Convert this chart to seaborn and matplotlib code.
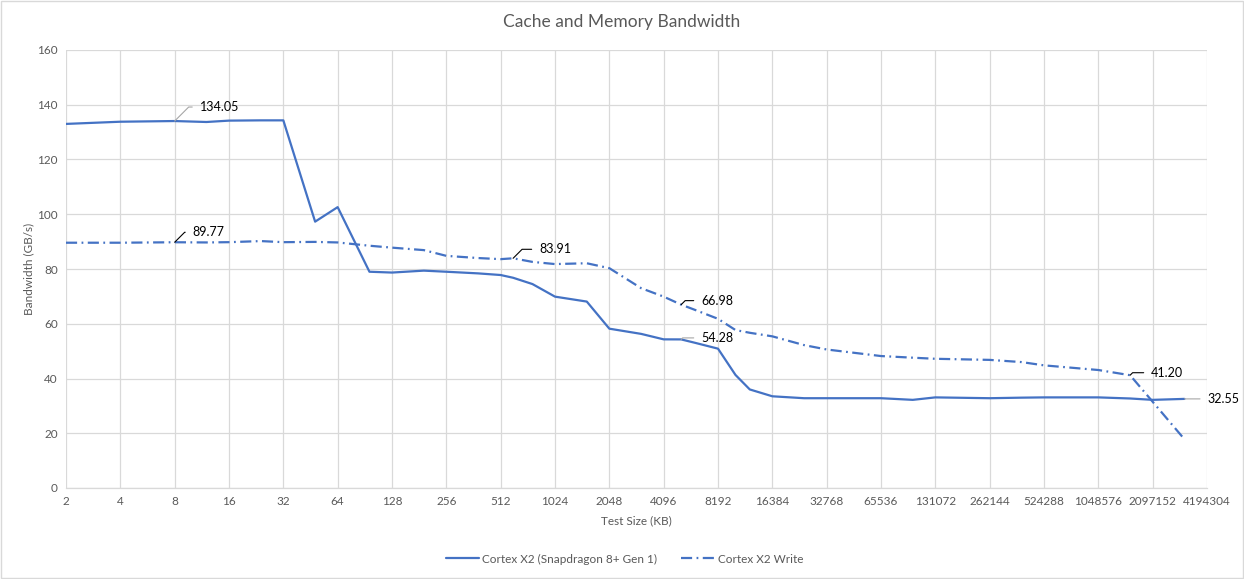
import numpy as np
import pandas as pd
import matplotlib
matplotlib.use("Agg")
import matplotlib.pyplot as plt
import seaborn as sns
from matplotlib.patches import Rectangle

# test sizes in KB
sizes = [2, 4, 8, 12, 16, 24, 32, 48, 64, 96, 128, 192, 256, 384, 512, 600, 768,
         1024, 1536, 2048, 3072, 4096, 5120, 6144, 8192, 10240, 12288, 16384,
         24567, 32768, 65536, 98304, 131072, 262144, 393216, 524288, 1048576,
         1572864, 2097152, 3145728]

# read bandwidth, GB/s
read_bw = [133.0, 133.8, 134.05, 133.7, 134.2, 134.3, 134.3, 97.3, 102.6, 79.0,
           78.7, 79.4, 79.0, 78.4, 77.8, 76.8, 74.5, 69.9, 68.1, 58.2, 56.3,
           54.3, 54.28, 53.0, 50.9, 41.3, 36.0, 33.5, 32.8, 32.8, 32.8, 32.2,
           33.1, 32.8, 33.0, 33.1, 33.1, 32.7, 32.2, 32.55]

# write bandwidth, GB/s
write_bw = [89.6, 89.6, 89.77, 89.7, 89.8, 90.2, 89.8, 89.9, 89.7, 88.5, 87.8,
            86.9, 84.8, 84.0, 83.6, 83.91, 82.6, 81.8, 82.1, 80.3, 73.0, 69.9,
            66.98, 65.0, 61.8, 57.7, 56.7, 55.4, 52.2, 50.6, 48.2, 47.6, 47.2,
            46.8, 46.0, 44.8, 43.1, 41.20, 31.5, 17.8]

series_names = ["Cortex X2 (Snapdragon 8+ Gen 1)", "Cortex X2 Write"]
x_ticks = [2 ** k for k in range(1, 23)]
y_ticks = list(range(0, 161, 20))

# labelled points: (series index, size, offset px x, offset px y, leader colour)
labels = [
    (0, 8, 25, 14, "#a6a6a6"),
    (1, 8, 18, 10, "#000000"),
    (1, 600, 26, 9, "#000000"),
    (1, 5120, 20, 4, "#000000"),
    (0, 5120, 20, 1.5, "#a6a6a6"),
    (1, 1572864, 21, 2.5, "#000000"),
    (0, 3145728, 23, 0, "#a6a6a6"),
]

df = pd.DataFrame({
    "size": sizes * 2,
    "bw": read_bw + write_bw,
    "series": [series_names[0]] * len(sizes) + [series_names[1]] * len(sizes),
})

sns.set_theme(style="whitegrid")
plt.rcParams["font.family"] = ["Lato", "DejaVu Sans"]

blue = "#4472c4"
grid_c = "#d9d9d9"
text_c = "#595959"

fig = plt.figure(figsize=(12.44, 5.79), dpi=100)
ax = fig.add_axes([66 / 1244, 1 - 488 / 579, (1207 - 66) / 1244, (488 - 50) / 579])

sns.lineplot(data=df, x="size", y="bw", hue="series", style="series",
             palette=[blue, blue], dashes={series_names[0]: "",
                                           series_names[1]: (5, 2, 0.8, 2)},
             linewidth=1.6, ax=ax, legend=True)

ax.set_xscale("log", base=2)
ax.set_xlim(2, 4194304)
ax.set_xticks(x_ticks)
ax.set_xticklabels([str(t) for t in x_ticks])
ax.minorticks_off()
ax.set_ylim(0, 160)
ax.set_yticks(y_ticks)

ax.grid(True, color=grid_c, linewidth=0.9)
for side in ["top", "right", "left"]:
    ax.spines[side].set_visible(False)
ax.spines["bottom"].set_color(grid_c)
ax.spines["bottom"].set_linewidth(0.9)
ax.tick_params(axis="both", length=0, labelsize=8.5, labelcolor=text_c, pad=6)

ax.set_xlabel("Test Size (KB)", fontsize=8.5, color=text_c, labelpad=6)
ax.set_ylabel("Bandwidth (GB/s)", fontsize=8.5, color=text_c, labelpad=2)
fig.text(0.5, 1 - 22 / 579, "Cache and Memory Bandwidth", ha="center", va="center",
         fontsize=12.5, color=text_c)

series_vals = [read_bw, write_bw]
for idx, size, dx, dy, col in labels:
    val = series_vals[idx][sizes.index(size)]
    if dy == 0:
        cs = "arc3,rad=0"
    else:
        cs = "angle,angleA=0,angleB=45,rad=0"
    ax.annotate(f"{val:.2f}", xy=(size, val), xytext=(dx, dy),
                textcoords="offset pixels", ha="left", va="center",
                fontsize=9, color="black", annotation_clip=False,
                arrowprops=dict(arrowstyle="-", color=col, lw=0.8,
                                connectionstyle=cs, relpos=(0, 0.5),
                                shrinkA=3, shrinkB=0))

leg = ax.legend(loc="center", bbox_to_anchor=(0.502, 1 - 559 / 579),
                bbox_transform=fig.transFigure, ncol=2, frameon=False,
                fontsize=8.5, handlelength=2.8, columnspacing=2.0,
                handletextpad=0.3)
for t in leg.get_texts():
    t.set_color(text_c)
leg.set_title(None)

fig.patches.append(Rectangle((0.001, 0.001), 0.998, 0.997, transform=fig.transFigure,
                             fill=False, edgecolor=grid_c, linewidth=1))

fig.savefig("out.png", dpi=100)
